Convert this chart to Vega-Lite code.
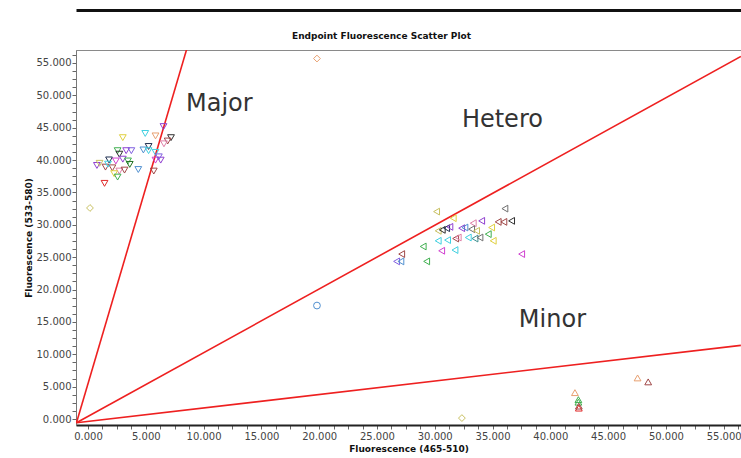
{
  "$schema": "https://vega.github.io/schema/vega-lite/v6.json",
  "width": 665,
  "height": 375,
  "autosize": {"type": "none"},
  "padding": {"left": 76, "top": 50, "right": 0, "bottom": 33},
  "background": "white",
  "config": {
    "view": {"stroke": "#8a8a8a", "strokeWidth": 1},
    "font": "DejaVu Sans",
    "axis": {"labelOverlap": false}
  },
  "title": {
    "text": "Endpoint Fluorescence Scatter Plot",
    "font": "DejaVu Sans",
    "fontSize": 9,
    "fontWeight": "bold",
    "color": "#111",
    "anchor": "middle",
    "dx": -27,
    "offset": -31
  },
  "datasets": {
    "lines": [
      {"line": "Major", "x": -1000, "y": -580},
      {"line": "Major", "x": 8683, "y": 58000},
      {"line": "Hetero", "x": -1000, "y": -580},
      {"line": "Hetero", "x": 56490, "y": 56000},
      {"line": "Minor", "x": -1000, "y": -580},
      {"line": "Minor", "x": 56490, "y": 11385}
    ],
    "labels": [
      {"label": "Major", "x": 8480, "y": 48600},
      {"label": "Hetero", "x": 32350, "y": 46140},
      {"label": "Minor", "x": 37280, "y": 15230}
    ],
    "points": [
      {"x": 3010, "y": 43460, "call": "Major", "sample": 1},
      {"x": 4950, "y": 44110, "call": "Major", "sample": 2},
      {"x": 5840, "y": 43730, "call": "Major", "sample": 3},
      {"x": 6530, "y": 45170, "call": "Major", "sample": 4},
      {"x": 7180, "y": 43460, "call": "Major", "sample": 5},
      {"x": 6890, "y": 42940, "call": "Major", "sample": 6},
      {"x": 6570, "y": 42510, "call": "Major", "sample": 13},
      {"x": 5240, "y": 42100, "call": "Major", "sample": 7},
      {"x": 4790, "y": 41560, "call": "Major", "sample": 8},
      {"x": 5240, "y": 41450, "call": "Major", "sample": 2},
      {"x": 5840, "y": 41190, "call": "Major", "sample": 2},
      {"x": 5840, "y": 39990, "call": "Major", "sample": 9},
      {"x": 6290, "y": 39990, "call": "Major", "sample": 4},
      {"x": 5690, "y": 38300, "call": "Major", "sample": 6},
      {"x": 4350, "y": 38540, "call": "Major", "sample": 8},
      {"x": 2560, "y": 41450, "call": "Major", "sample": 10},
      {"x": 3300, "y": 41450, "call": "Major", "sample": 4},
      {"x": 3750, "y": 41450, "call": "Major", "sample": 17},
      {"x": 2710, "y": 40910, "call": "Major", "sample": 5},
      {"x": 1820, "y": 40020, "call": "Major", "sample": 7},
      {"x": 2410, "y": 39860, "call": "Major", "sample": 9},
      {"x": 3010, "y": 40140, "call": "Major", "sample": 4},
      {"x": 3460, "y": 39860, "call": "Major", "sample": 10},
      {"x": 3610, "y": 39330, "call": "Major", "sample": 11},
      {"x": 770, "y": 39170, "call": "Major", "sample": 4},
      {"x": 1510, "y": 38910, "call": "Major", "sample": 6},
      {"x": 2110, "y": 38800, "call": "Major", "sample": 6},
      {"x": 2710, "y": 38300, "call": "Major", "sample": 13},
      {"x": 3160, "y": 38450, "call": "Major", "sample": 6},
      {"x": 2260, "y": 37900, "call": "Major", "sample": 1},
      {"x": 2560, "y": 37370, "call": "Major", "sample": 10},
      {"x": 1430, "y": 36400, "call": "Major", "sample": 12},
      {"x": 1730, "y": 39370, "call": "Major", "sample": 2},
      {"x": 1000, "y": 39500, "call": "Major", "sample": 14},
      {"x": 6130, "y": 40500, "call": "Major", "sample": 17},
      {"x": 30160, "y": 32040, "call": "Hetero", "sample": 14},
      {"x": 31600, "y": 31020, "call": "Hetero", "sample": 1},
      {"x": 30300, "y": 29070, "call": "Hetero", "sample": 14},
      {"x": 30650, "y": 29220, "call": "Hetero", "sample": 5},
      {"x": 31030, "y": 29480, "call": "Hetero", "sample": 7},
      {"x": 31310, "y": 29680, "call": "Hetero", "sample": 4},
      {"x": 32330, "y": 29480, "call": "Hetero", "sample": 4},
      {"x": 30300, "y": 27530, "call": "Hetero", "sample": 2},
      {"x": 31110, "y": 27640, "call": "Hetero", "sample": 2},
      {"x": 31810, "y": 27880, "call": "Hetero", "sample": 6},
      {"x": 32030, "y": 28040, "call": "Hetero", "sample": 13},
      {"x": 29000, "y": 26650, "call": "Hetero", "sample": 10},
      {"x": 30600, "y": 25990, "call": "Hetero", "sample": 9},
      {"x": 31750, "y": 26100, "call": "Hetero", "sample": 2},
      {"x": 27140, "y": 25480, "call": "Hetero", "sample": 6},
      {"x": 26700, "y": 24350, "call": "Hetero", "sample": 17},
      {"x": 27070, "y": 24350, "call": "Hetero", "sample": 8},
      {"x": 29300, "y": 24350, "call": "Hetero", "sample": 10},
      {"x": 36070, "y": 32500, "call": "Hetero", "sample": 15},
      {"x": 35490, "y": 30450, "call": "Hetero", "sample": 6},
      {"x": 35980, "y": 30450, "call": "Hetero", "sample": 6},
      {"x": 36650, "y": 30610, "call": "Hetero", "sample": 5},
      {"x": 34920, "y": 29580, "call": "Hetero", "sample": 1},
      {"x": 34060, "y": 30610, "call": "Hetero", "sample": 4},
      {"x": 33330, "y": 30250, "call": "Hetero", "sample": 13},
      {"x": 32610, "y": 29580, "call": "Hetero", "sample": 8},
      {"x": 33190, "y": 29330, "call": "Hetero", "sample": 15},
      {"x": 33620, "y": 29070, "call": "Hetero", "sample": 14},
      {"x": 32900, "y": 28040, "call": "Hetero", "sample": 2},
      {"x": 33480, "y": 27880, "call": "Hetero", "sample": 16},
      {"x": 33910, "y": 28040, "call": "Hetero", "sample": 15},
      {"x": 34630, "y": 28560, "call": "Hetero", "sample": 10},
      {"x": 35060, "y": 27530, "call": "Hetero", "sample": 1},
      {"x": 37520, "y": 25480, "call": "Hetero", "sample": 9},
      {"x": 42130, "y": 4080, "call": "Minor", "sample": 3},
      {"x": 42430, "y": 3000, "call": "Minor", "sample": 10},
      {"x": 42430, "y": 2610, "call": "Minor", "sample": 10},
      {"x": 42470, "y": 1690, "call": "Minor", "sample": 12},
      {"x": 42470, "y": 2000, "call": "Minor", "sample": 6},
      {"x": 47550, "y": 6350, "call": "Minor", "sample": 3},
      {"x": 48470, "y": 5740, "call": "Minor", "sample": 6},
      {"x": 170, "y": 32600, "call": "Unknown", "sample": 14},
      {"x": 19810, "y": 55680, "call": "Unknown", "sample": 3},
      {"x": 32350, "y": 150, "call": "Unknown", "sample": 14},
      {"x": 19810, "y": 17530, "call": "NTC", "sample": 8}
    ]
  },
  "resolve": {"axis": {"x": "independent", "y": "independent"}},
  "layer": [
    {
      "data": {"name": "lines"},
      "mark": {"type": "line", "color": "#ee2020", "strokeWidth": 1.6, "clip": true},
      "encoding": {
        "x": {
          "field": "x", "type": "quantitative",
          "scale": {"domain": [-1040, 56500], "nice": false, "zero": false},
          "axis": {"orient": "top", "offset": 40, "labels": false, "ticks": false, "grid": false, "title": null, "domainColor": "#111", "domainWidth": 3}
        },
        "y": {
          "field": "y", "type": "quantitative",
          "scale": {"domain": [-920, 57000], "nice": false, "zero": false},
          "axis": {
            "title": "Fluorescence (533-580)",
            "titleFont": "DejaVu Sans", "titleFontSize": 9, "titleFontWeight": "bold", "titleColor": "#111", "titlePadding": 3,
            "grid": false,
            "values": [0,1250,2500,3750,5000,6250,7500,8750,10000,11250,12500,13750,15000,16250,17500,18750,20000,21250,22500,23750,25000,26250,27500,28750,30000,31250,32500,33750,35000,36250,37500,38750,40000,41250,42500,43750,45000,46250,47500,48750,50000,51250,52500,53750,55000,56250],
            "labelExpr": "datum.value % 5000 === 0 ? (datum.value === 0 ? '0.000' : replace(format(datum.value, ','), ',', '.')) : ''",
            "labelOverlap": false, "labelBound": false, "labelFlush": false,
            "labelFont": "DejaVu Sans", "labelFontSize": 10, "labelColor": "#444", "labelPadding": 1,
            "tickSize": 4, "tickColor": "#666", "domainColor": "#777", "domainWidth": 1
          }
        },
        "detail": {"field": "line"}
      }
    },
    {
      "data": {"name": "points"},
      "mark": {"type": "point", "filled": false, "strokeWidth": 1, "size": 46, "opacity": 1},
      "encoding": {
        "x": {
          "field": "x", "type": "quantitative",
          "axis": {
            "title": "Fluorescence (465-510)",
            "titleFont": "DejaVu Sans", "titleFontSize": 9, "titleFontWeight": "bold", "titleColor": "#111", "titlePadding": 3,
            "grid": false,
            "values": [0,1250,2500,3750,5000,6250,7500,8750,10000,11250,12500,13750,15000,16250,17500,18750,20000,21250,22500,23750,25000,26250,27500,28750,30000,31250,32500,33750,35000,36250,37500,38750,40000,41250,42500,43750,45000,46250,47500,48750,50000,51250,52500,53750,55000,56250],
            "labelExpr": "datum.value % 5000 === 0 ? (datum.value === 0 ? '0.000' : replace(format(datum.value, ','), ',', '.')) : ''",
            "labelOverlap": false, "labelBound": false, "labelFlush": false,
            "labelFont": "DejaVu Sans", "labelFontSize": 10, "labelColor": "#444", "labelPadding": 2,
            "tickSize": 4, "tickColor": "#666", "domainColor": "#222", "domainWidth": 2
          }
        },
        "y": {"field": "y", "type": "quantitative", "axis": null},
        "shape": {
          "field": "call", "type": "nominal", "legend": null,
          "scale": {"domain": ["Major", "Hetero", "Minor", "Unknown", "NTC"], "range": ["triangle-down", "triangle-left", "triangle-up", "diamond", "circle"]}
        },
        "color": {
          "field": "sample", "type": "nominal", "legend": null,
          "scale": {
            "domain": [1,2,3,4,5,6,7,8,9,10,11,12,13,14,15,16,17],
            "range": ["#e0d040","#40d0e0","#e8a070","#9040d0","#303030","#a04848","#203050","#5090d0","#d040d0","#40b050","#207020","#e02828","#e080a8","#c8c060","#707070","#409090","#8060e0"]
          }
        }
      }
    },
    {
      "data": {"name": "labels"},
      "mark": {"type": "text", "align": "left", "baseline": "middle", "font": "DejaVu Sans", "fontSize": 24, "color": "#333"},
      "encoding": {
        "x": {"field": "x", "type": "quantitative", "axis": null},
        "y": {"field": "y", "type": "quantitative", "axis": null},
        "text": {"field": "label"}
      }
    }
  ]
}
